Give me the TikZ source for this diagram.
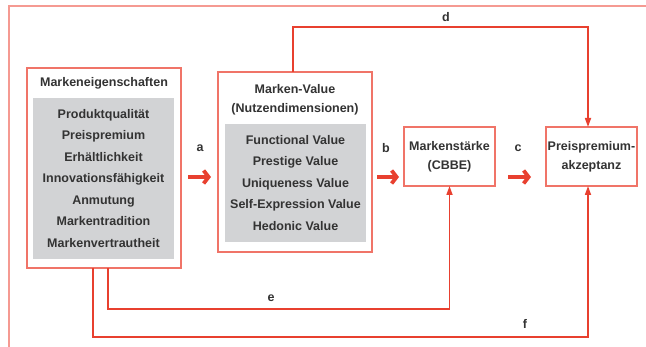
\documentclass[tikz,border=0pt]{standalone}
\usepackage{fontspec}
\setmainfont{Liberation Sans}
\usetikzlibrary{arrows.meta}
\definecolor{linered}{HTML}{E8402F}
\definecolor{boxred}{HTML}{F07468}
\definecolor{framered}{HTML}{F59A92}
\definecolor{panelgray}{HTML}{D2D3D5}
\definecolor{textgray}{HTML}{333333}
\begin{document}
\begin{tikzpicture}[x=1pt,y=-1pt,
  every node/.style={inner sep=0pt,outer sep=0pt,text=textgray,font=\bfseries\fontsize{12.5}{21.5}\selectfont},
  framebox/.style={draw=boxred,line width=1.2pt,fill=white,rectangle},
  panel/.style={fill=panelgray,rectangle,align=center},
  conn/.style={draw=linered,line width=1.6pt,-{Triangle[length=9pt,width=6pt]}},
  bigarrow/.style={draw=linered,line width=3.8pt,-{Straight Barb[length=5pt,width=13pt]}},
  lbl/.style={font=\bfseries\fontsize{12.5}{14}\selectfont}]
\useasboundingbox (0,0) rectangle (646,347);
% open outer frame
\draw[framered,line width=1.5pt] (9,347) -- (9,6) -- (646,6);

% boxes
\node[framebox,minimum width=154pt,minimum height=200pt] (eig) at (104,168) {};
\node[panel,minimum width=141pt,minimum height=161pt] (eigp) at (103.5,178.5)
  {Produktqualität\\Preispremium\\Erhältlichkeit\\Innovationsfähigkeit\\Anmutung\\Markentradition\\Markenvertrautheit};
\node (eigt) at (104,83) {Markeneigenschaften};

\node[framebox,minimum width=154pt,minimum height=180pt] (val) at (295,162) {};
\node[panel,minimum width=141pt,minimum height=118pt] (valp) at (295.5,183)
  {Functional Value\\Prestige Value\\Uniqueness Value\\Self-Expression Value\\Hedonic Value};
\node[align=center,font=\bfseries\fontsize{12.5}{19}\selectfont] (valt) at (295,99.5) {Marken-Value\\(Nutzendimensionen)};

\node[framebox,minimum width=91pt,minimum height=59pt,align=center,font=\bfseries\fontsize{12.5}{19}\selectfont] (cbbe) at (449.5,156.5) {Markenstärke\\(CBBE)};
\node[framebox,minimum width=91pt,minimum height=59pt,align=center,font=\bfseries\fontsize{12.5}{19}\selectfont] (ppa) at (591.5,156.5) {Preispremium-\\akzeptanz};

% main chain
\coordinate (a1) at (188,177); \coordinate (a2) at (211,177);
\coordinate (b1) at (377,177); \coordinate (b2) at (399,177);
\coordinate (c1) at (508,177); \coordinate (c2) at (531,177);
\draw[bigarrow] (a1) -- (a2);
\draw[bigarrow] (b1) -- (b2);
\draw[bigarrow] (c1) -- (c2);
\node[lbl] (la) at (200,148) {a};
\node[lbl] (lb) at (386,148) {b};
\node[lbl] (lc) at (518,148) {c};

% direct paths
\coordinate (d1) at (293,27); \coordinate (d2) at (588,27);
\draw[conn] (val.north -| d1) -- (d1) -- (d2) -- (d2 |- ppa.north);
\node[lbl] (ld) at (446,17) {d};

\coordinate (e1) at (108,309); \coordinate (e2) at (449.5,309);
\draw[conn] (eig.south -| e1) -- (e1) -- (e2) -- (cbbe.south);
\node[lbl] (le) at (271,298) {e};

\coordinate (f1) at (93,337); \coordinate (f2) at (588,337);
\draw[conn] (eig.south -| f1) -- (f1) -- (f2) -- (f2 |- ppa.south);
\node[lbl] (lf) at (525,324) {f};
\end{tikzpicture}
\end{document}
